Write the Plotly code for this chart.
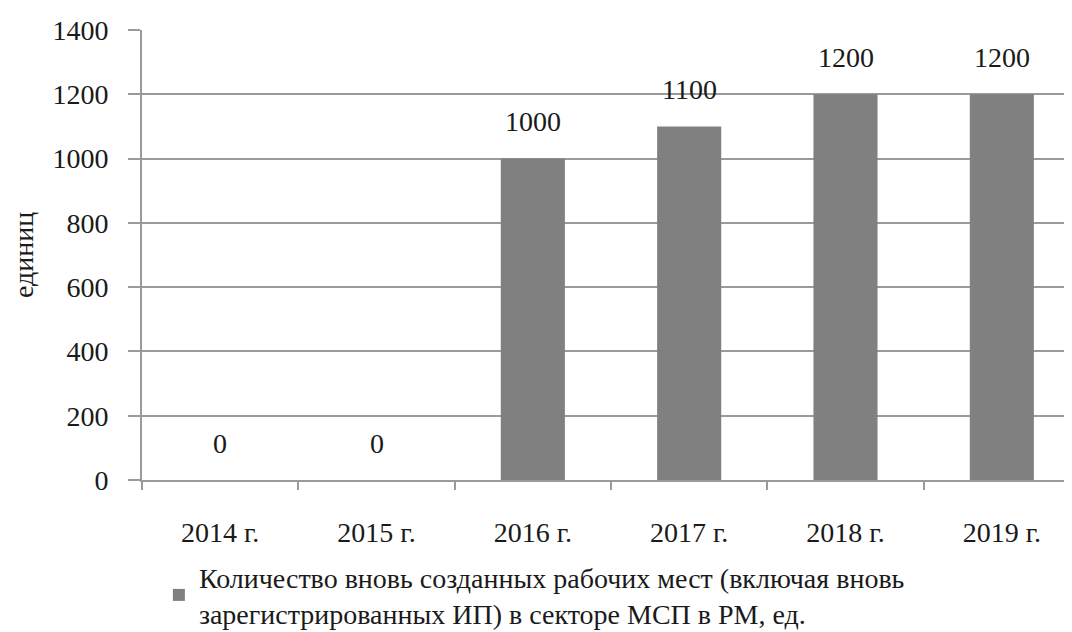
import plotly.graph_objects as go

categories = ["2014 г.", "2015 г.", "2016 г.", "2017 г.", "2018 г.", "2019 г."]
values = [0, 0, 1000, 1100, 1200, 1200]
series_name = "Количество вновь созданных рабочих мест (включая вновь<br>зарегистрированных ИП) в секторе МСП в РМ, ед."
y_title = "единиц"
y_ticks = [0, 200, 400, 600, 800, 1000, 1200, 1400]

FONT = "Liberation Serif, Times New Roman, Times, serif"
GRID = "#9a9a9a"

fig = go.Figure()
fig.add_trace(go.Bar(
    x=categories, y=values, name=series_name,
    marker=dict(color="#808080", line=dict(width=0)),
    width=0.41, showlegend=True,
))

for c, v in zip(categories, values):
    fig.add_annotation(x=c, y=v, text=str(v), showarrow=False,
                       yanchor="middle", yshift=37,
                       font=dict(family=FONT, size=28, color="#1a1a1a"))

fig.update_layout(
    width=1072, height=632,
    margin=dict(l=134, r=0, t=22, b=160, autoexpand=False),
    paper_bgcolor="white", plot_bgcolor="white",
    font=dict(family=FONT, size=28, color="#1a1a1a"),
    bargap=0.59,
    showlegend=True,
    legend=dict(x=0.018, y=-0.16, xanchor="left", yanchor="top",
                font=dict(family=FONT, size=28, color="#1a1a1a"),
                itemwidth=30, tracegroupgap=0,
                bgcolor="rgba(0,0,0,0)"),
    xaxis=dict(
        type="category", range=[-0.5, 5.5],
        showline=True, linecolor=GRID, linewidth=2,
        ticks="outside", tickson="boundaries", ticklen=8, tickcolor=GRID, tickwidth=2,
        showgrid=False, ticklabelstandoff=26,
        tickfont=dict(family=FONT, size=28),
    ),
    yaxis=dict(
        range=[0, 1400], tickvals=y_ticks, ticktext=[str(t) for t in y_ticks],
        showgrid=True, gridcolor=GRID, gridwidth=2,
        showline=True, linecolor=GRID, linewidth=2,
        ticks="outside", ticklen=12, tickcolor=GRID, tickwidth=2,
        zeroline=False, ticklabelstandoff=14,
        tickfont=dict(family=FONT, size=28),
        title=dict(text=y_title, font=dict(family=FONT, size=28), standoff=30),
    ),
)

fig.write_html("out.html")
